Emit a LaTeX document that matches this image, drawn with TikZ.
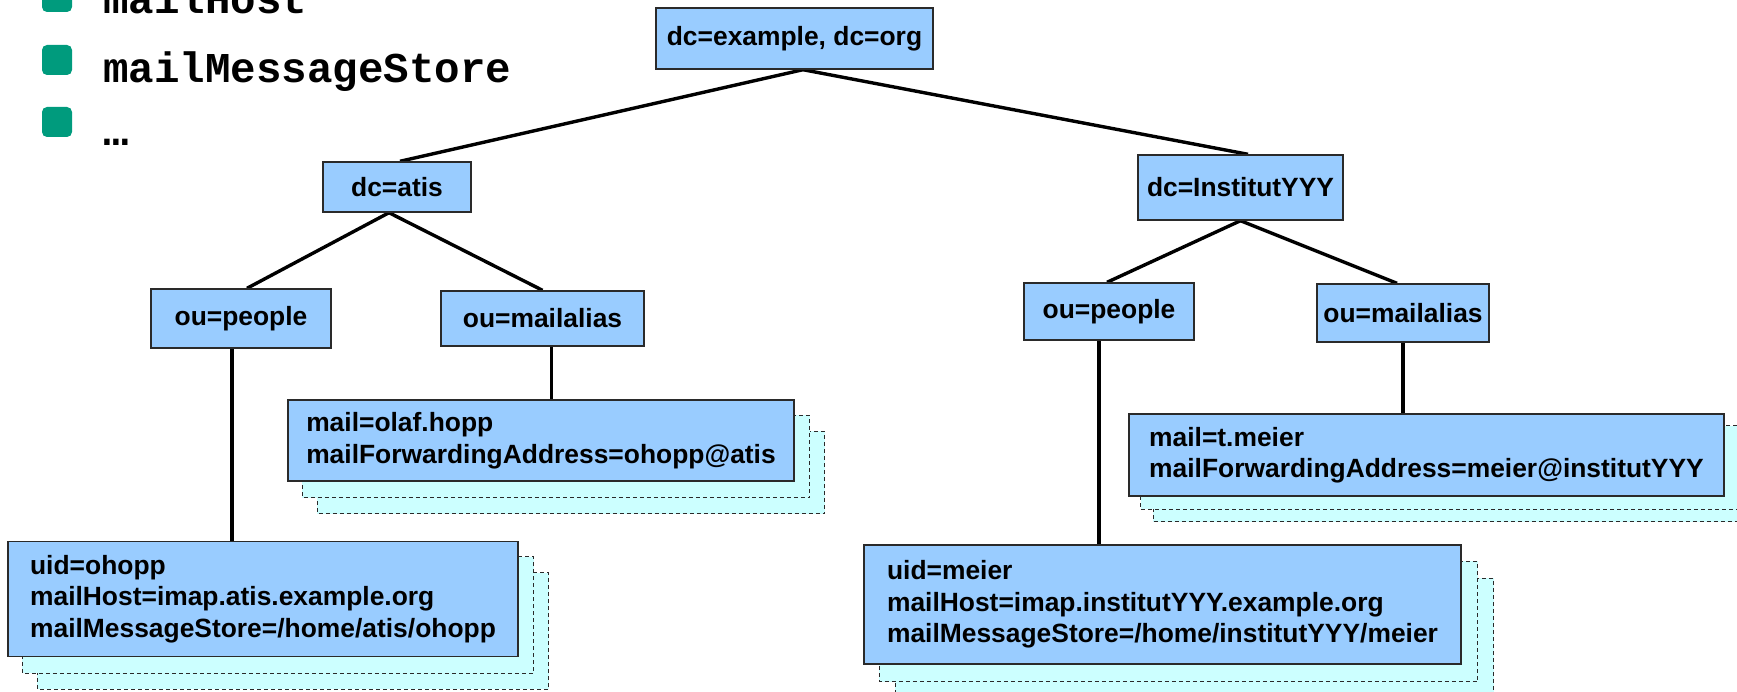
\documentclass[tikz,border=0pt]{standalone}
\usepackage{fontspec}
\setmainfont{Liberation Sans}
\newfontfamily\codefont{Liberation Mono}
\usetikzlibrary{calc,backgrounds}
\definecolor{boxblue}{HTML}{99CCFF}
\definecolor{shadecyan}{HTML}{CCFFFF}
\definecolor{bordergray}{HTML}{2A2A2A}
\definecolor{bulletgreen}{RGB}{0,155,125}
\begin{document}
\begin{tikzpicture}[x=1pt,y=-1pt,
  box/.style={draw=bordergray, line width=1.4pt, fill=boxblue, inner sep=0pt,
    font=\fontsize{26.4}{31.5}\selectfont\bfseries},
  leaf/.style={box, align=left},
  shad/.style={draw=bordergray, line width=1.1pt, dash pattern=on 4pt off 3pt, fill=shadecyan},
  conn/.style={line width=3.4pt, black},
  bulletsq/.style={fill=bulletgreen, rounded corners=5pt, minimum size=30pt, inner sep=0pt},
  code/.style={font=\fontsize{42.5}{42.5}\selectfont\codefont\bfseries, inner sep=0pt, anchor=base west}
]
\useasboundingbox (0,0) rectangle (1737,692);
\clip (0,0) rectangle (1737,692);

% bullet list
\node[bulletsq] (b1) at (57,-3) {};
\node[bulletsq] (b2) at (57,60) {};
\node[bulletsq] (b3) at (57,122) {};
\node[code] (t1) at (103,14) {mailHost};
\node[code] (t2) at (103,83) {mailMessageStore};
\node[code] (t3) at (103,146) {…};

% tree nodes
\node[box, minimum width=277pt, minimum height=61pt] (root) at (794.5,38.5) {dc=example, dc=org};
\node[box, minimum width=148pt, minimum height=50pt] (atis) at (397,187) {dc=atis};
\node[box, minimum width=205pt, minimum height=65pt] (inst) at (1240.5,187.5) {dc=InstitutYYY};
\node[box, minimum width=180pt, minimum height=59pt] (peopleA) at (241,318.5) {ou=people};
\node[box, minimum width=203pt, minimum height=55pt] (aliasA) at (542.5,318.5) {ou=mailalias};
\node[box, minimum width=170pt, minimum height=57pt] (peopleI) at (1109,311.5) {ou=people};
\node[box, minimum width=172pt, minimum height=58pt] (aliasI) at (1403,313) {ou=mailalias};

% leaves
\node[leaf, minimum width=506pt, minimum height=81pt] (mailA) at (541,440.5)
  {mail=olaf.hopp\\mailForwardingAddress=ohopp@atis};
\node[leaf, minimum width=510pt, minimum height=115pt] (leafA) at (263,599)
  {uid=ohopp\\mailHost=imap.atis.example.org\\mailMessageStore=/home/atis/ohopp};
\node[leaf, minimum width=595pt, minimum height=82pt] (mailI) at (1426.5,455)
  {mail=t.meier\\mailForwardingAddress=meier@institutYYY};
\node[leaf, minimum width=597pt, minimum height=119pt] (leafI) at (1162.5,604.5)
  {uid=meier\\mailHost=imap.institutYYY.example.org\\mailMessageStore=/home/institutYYY/meier};

\begin{scope}[on background layer]
  % stacked shadow sheets
  \draw[shad] ($(mailA.north west)+(30,32)$) rectangle ($(mailA.south east)+(30,32)$);
  \draw[shad] ($(mailA.north west)+(15,16)$) rectangle ($(mailA.south east)+(15,16)$);
  \draw[shad] ($(leafA.north west)+(30,32)$) rectangle ($(leafA.south east)+(30,32)$);
  \draw[shad] ($(leafA.north west)+(15,16)$) rectangle ($(leafA.south east)+(15,16)$);
  \draw[shad] ($(mailI.north west)+(25,25)$) rectangle ($(mailI.south east)+(25,25)$);
  \draw[shad] ($(mailI.north west)+(12.5,12.5)$) rectangle ($(mailI.south east)+(12.5,12.5)$);
  \draw[shad] ($(leafI.north west)+(32,34)$) rectangle ($(leafI.south east)+(32,34)$);
  \draw[shad] ($(leafI.north west)+(16,17)$) rectangle ($(leafI.south east)+(16,17)$);

  % connectors
  \coordinate (rs) at ($(root.south)+(8.5,0)$);
  \coordinate (as) at ($(atis.south)+(-8,0)$);
  \draw[conn] (rs) -- ($(atis.north)+(3,0)$);
  \draw[conn] (rs) -- ($(inst.north)+(7.5,0)$);
  \draw[conn] (as) -- ($(peopleA.north)+(6,0)$);
  \draw[conn] (as) -- (aliasA.north);
  \draw[conn] (inst.south) -- ($(peopleI.north)+(-2,0)$);
  \draw[conn] (inst.south) -- ($(aliasI.north)+(-6,0)$);
  \coordinate (pa) at ($(peopleA.south)+(-9,0)$);
  \coordinate (ma) at ($(aliasA.south)+(9,0)$);
  \coordinate (pi) at ($(peopleI.south)+(-10,0)$);
  \coordinate (mi) at (aliasI.south);
  \draw[conn] (pa) -- (pa |- leafA.north);
  \draw[conn] (ma) -- (ma |- mailA.north);
  \draw[conn] (pi) -- (pi |- leafI.north);
  \draw[conn] (mi) -- (mi |- mailI.north);
\end{scope}
\end{tikzpicture}
\end{document}
